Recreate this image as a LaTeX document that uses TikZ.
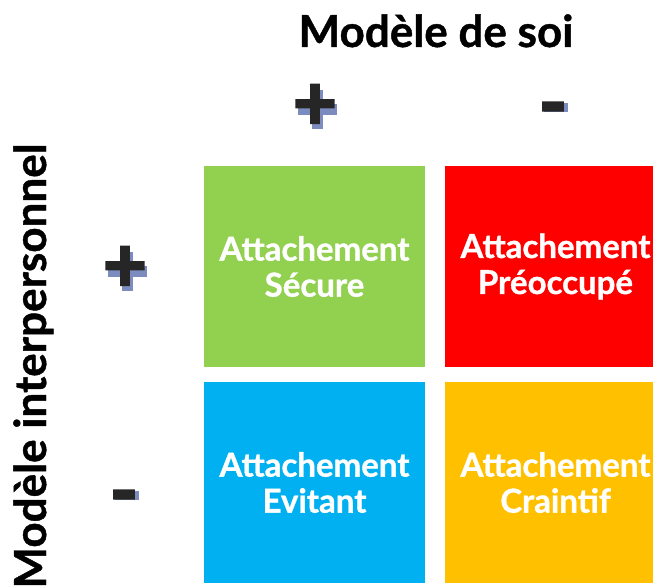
\documentclass[tikz,border=0pt]{standalone}
\usepackage{fontspec}
\setmainfont{Lato}
\definecolor{qgreen}{HTML}{92D050}
\definecolor{qred}{HTML}{FF0000}
\definecolor{qblue}{HTML}{00B0F0}
\definecolor{qyellow}{HTML}{FFC000}
\definecolor{signdark}{HTML}{262626}
\definecolor{signshadow}{RGB}{125,140,190}
\begin{document}
\begin{tikzpicture}[x=1pt,y=-1pt,
  quad/.style={draw=none,minimum width=221pt,minimum height=201pt,inner sep=0pt,
    text=white,align=center,font=\bfseries\fontsize{33}{36}\selectfont\addfontfeatures{FakeBold=1}},
  axistitle/.style={inner sep=0pt,font=\bfseries\fontsize{44}{48}\selectfont\addfontfeatures{FakeBold=1},text=black},
  sign/.style={inner sep=0pt,font=\bfseries\fontsize{76}{76}\selectfont\addfontfeatures{FakeBold=3},text=signdark},
  signshade/.style={fill=signshadow,draw=none}]
\useasboundingbox (0,0) rectangle (653,588);
\clip (0,0) rectangle (653,588);
\node[quad,fill=qgreen]  (sec) at (314.5,266.5) {Attachement\\Sécure};
\node[quad,fill=qred]    (pre) at (555.5,266.5) {Attachement\\Préoccupé};
\node[quad,fill=qblue]   (evi) at (314.5,482.5) {Attachement\\Evitant};
\node[quad,fill=qyellow] (cra) at (555.5,482.5) {Attachement\\Craintif};
\node[axistitle,anchor=base] (soi) at (436,47) {Modèle de soi};
\node[axistitle,anchor=base,rotate=90] (inter) at (46,366) {Modèle interpersonnel};
% sign shadows
\foreach \cx/\cy in {315/107,125/269} {
  \fill[signshade] (\cx-17,\cy-3) rectangle (\cx+22,\cy+8);
  \fill[signshade] (\cx-3,\cy-17) rectangle (\cx+8,\cy+22);
}
\fill[signshade] (544,103) rectangle (568,112);
\fill[signshade] (115,491) rectangle (139,500);
\node[sign] (tplus) at (315,107) {+};
\node[sign] (tminus) at (553,116) {-};
\node[sign] (lplus) at (125,269) {+};
\node[sign] (lminus) at (124,504) {-};
\end{tikzpicture}
\end{document}
